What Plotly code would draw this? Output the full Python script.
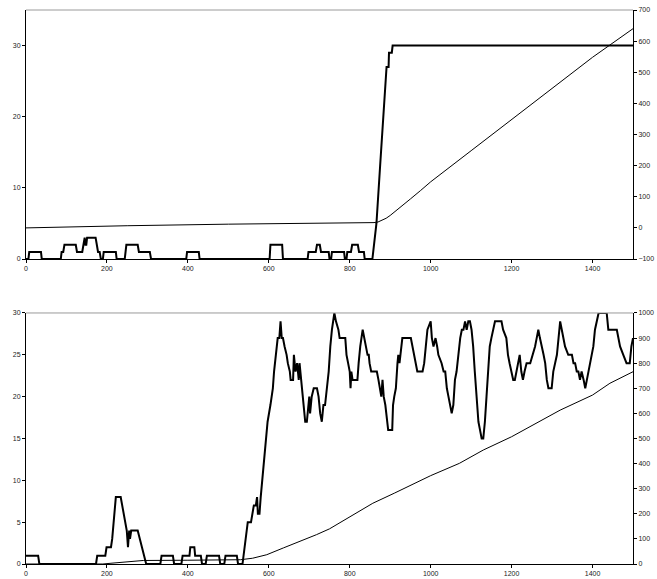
import plotly.graph_objects as go

# ---- upper panel: event count (left axis) and cumulative total (right axis)
top_count_x = [0, 6, 8, 37, 39, 86, 88, 92, 95, 123, 126, 139, 142, 145, 147, 149, 151, 172,
               175, 178, 182, 185, 190, 192, 222, 224, 244, 246, 248, 276, 279, 306, 309,
               396, 398, 427, 429, 602, 604, 633, 635, 696, 698, 716, 719, 726, 729, 748, 750,
               754, 756, 786, 788, 792, 794, 803, 806, 820, 823, 835, 837, 856, 860, 864, 866,
               875, 883, 889, 891, 896, 897, 904, 906, 910, 1500]
top_count_y = [0, 0, 1, 1, 0, 0, 1, 1, 2, 2, 1, 1, 2, 3, 2, 2, 3, 3,
               2, 1, 1, 0, 0, 1, 1, 0, 0, 1, 2, 2, 1, 1, 0,
               0, 1, 1, 0, 0, 2, 2, 0, 0, 1, 1, 2, 2, 1, 1, 0,
               0, 1, 1, 0, 0, 1, 1, 2, 2, 1, 1, 0, 0, 2, 4, 5,
               13, 20, 24, 27, 27, 29, 29, 30, 30, 30]

top_total_x = [0, 100, 250, 500, 750, 860, 870, 880, 890, 900, 915, 930, 950, 975, 1000,
               1100, 1200, 1300, 1400, 1500]
top_total_y = [0, 3, 7, 12, 15, 17, 19, 24, 31, 40, 55, 71, 93, 120, 148,
               248, 348, 448, 548, 640]

# ---- lower panel: event count (left axis) and cumulative total (right axis)
bot_count_x = [0, 30, 33, 173, 176, 196, 199, 210, 213, 216, 219, 222, 234, 238, 242, 246, 249,
               252, 255, 257, 260, 276, 281, 287, 291, 297, 332, 335, 363, 366, 384, 387, 404,
               406, 416, 418, 432, 435, 444, 447, 477, 480, 490, 493, 521, 524, 535, 540, 545,
               548, 556, 559, 563, 568, 571, 573, 577, 580, 584, 589, 592, 597, 604, 610, 613,
               618, 622, 626, 629, 632, 635, 639, 644, 647, 652, 654, 660, 662, 666, 670, 674,
               676, 680, 683, 686, 690, 694, 698, 700, 702, 706, 711, 719, 723, 727, 731, 735,
               739, 744, 748, 752, 756, 762, 766, 772, 775, 789, 792, 796, 800, 802, 804, 807,
               819, 822, 826, 832, 836, 840, 844, 847, 849, 853, 867, 871, 875, 878, 881, 884,
               888, 892, 895, 905, 907, 910, 914, 918, 920, 923, 930, 951, 955, 959, 963, 967,
               980, 984, 988, 992, 1000, 1003, 1007, 1012, 1016, 1019, 1027, 1032, 1036, 1040,
               1044, 1048, 1052, 1056, 1060, 1064, 1068, 1073, 1077, 1081, 1085, 1089, 1093,
               1097, 1101, 1105, 1109, 1113, 1118, 1122, 1126, 1130, 1134, 1138, 1142, 1146,
               1150, 1154, 1159, 1175, 1179, 1187, 1191, 1195, 1200, 1204, 1208, 1212, 1216,
               1220, 1224, 1228, 1232, 1237, 1246, 1258, 1262, 1266, 1270, 1275, 1279, 1283,
               1287, 1291, 1299, 1303, 1307, 1312, 1316, 1320, 1324, 1328, 1332, 1340, 1349,
               1353, 1357, 1361, 1365, 1369, 1373, 1378, 1382, 1386, 1390, 1394, 1398, 1402,
               1406, 1411, 1415, 1435, 1439, 1460, 1464, 1468, 1476, 1484, 1492, 1496, 1500]
bot_count_y = [1, 1, 0, 0, 1, 1, 2, 2, 3, 5, 7, 8, 8, 7, 6, 5, 4,
               2, 4, 3, 4, 4, 3, 2, 1, 0, 0, 1, 1, 0, 0, 1, 1,
               2, 2, 1, 1, 0, 0, 1, 1, 0, 0, 1, 1, 0, 0, 2, 4,
               5, 5, 6, 7, 7, 8, 6, 6, 8, 10, 13, 14, 17, 19, 21, 23,
               25, 27, 27, 29, 27, 27, 26, 25, 24, 23, 22, 22, 25, 23, 24, 22,
               24, 22, 20, 19, 17, 17, 19, 20, 18, 20, 21, 21, 20, 18, 17, 19,
               19, 21, 23, 26, 28, 30, 29, 28, 27, 27, 25, 24, 23, 21, 23, 22,
               22, 24, 26, 28, 27, 26, 25, 25, 24, 23, 23, 22, 21, 20, 22, 20,
               19, 17, 16, 16, 19, 20, 21, 24, 25, 24, 27, 27, 26, 25, 24, 23,
               23, 24, 26, 28, 29, 27, 26, 27, 26, 25, 24, 23, 23, 21,
               20, 19, 18, 19, 22, 23, 25, 27, 28, 28, 29, 28, 29,
               29, 28, 26, 23, 20, 17, 16, 15, 15, 17, 20, 23, 26,
               27, 28, 29, 29, 28, 27, 25, 24, 23, 22, 22, 23, 24,
               25, 23, 22, 23, 24, 24, 26, 27, 28, 27, 26, 25, 24,
               22, 21, 21, 23, 24, 25, 27, 29, 28, 27, 26, 25, 25,
               24, 24, 23, 23, 22, 23, 22, 21, 22, 23, 24, 25, 26,
               28, 29, 30, 30, 28, 28, 27, 26, 25, 24, 24, 26, 27]

bot_total_x = [0, 190, 210, 250, 290, 400, 530, 560, 595, 636, 677, 718, 750, 802, 857,
               910, 1000, 1071, 1130, 1200, 1278, 1320, 1400, 1443, 1500]
bot_total_y = [0, 0, 3, 10, 14, 15, 17, 23, 37, 64, 90, 117, 140, 189, 242,
               282, 352, 401, 454, 507, 574, 613, 673, 720, 766]

x_ticks = [0, 200, 400, 600, 800, 1000, 1200, 1400]

fig = go.Figure()
thick = dict(color="black", width=2)
thin = dict(color="black", width=1)

fig.add_trace(go.Scatter(x=top_count_x, y=top_count_y, mode="lines", line=thick,
                         xaxis="x", yaxis="y"))
fig.add_trace(go.Scatter(x=top_total_x, y=top_total_y, mode="lines", line=thin,
                         xaxis="x", yaxis="y2"))
fig.add_trace(go.Scatter(x=bot_count_x, y=bot_count_y, mode="lines", line=thick,
                         xaxis="x2", yaxis="y3"))
fig.add_trace(go.Scatter(x=bot_total_x, y=bot_total_y, mode="lines", line=thin,
                         xaxis="x2", yaxis="y4"))

tick_font = dict(family="Liberation Sans, Arial, sans-serif", size=7, color="#222")
axis_common = dict(showline=True, linecolor="black", linewidth=1, ticks="outside",
                   ticklen=3, tickcolor="black", tickwidth=1, showgrid=False,
                   zeroline=False, tickfont=tick_font, automargin=False, fixedrange=True)

top_dom = [0.5505, 1.0]
bot_dom = [0.0, 0.4531]

fig.update_layout(
    width=657, height=579,
    margin=dict(l=26, r=24, t=10, b=15),
    paper_bgcolor="white", plot_bgcolor="white",
    showlegend=False,
    xaxis=dict(domain=[0, 1], anchor="y", range=[0, 1500], tickvals=x_ticks, **axis_common),
    yaxis=dict(domain=top_dom, anchor="x", range=[0, 35], tickvals=[0, 10, 20, 30],
               **axis_common),
    yaxis2=dict(overlaying="y", side="right", anchor="x", range=[-100, 700],
                tickvals=list(range(-100, 701, 100)), **axis_common),
    xaxis2=dict(domain=[0, 1], anchor="y3", range=[0, 1500], tickvals=x_ticks, **axis_common),
    yaxis3=dict(domain=bot_dom, anchor="x2", range=[0, 30], tickvals=list(range(0, 31, 5)),
                **axis_common),
    yaxis4=dict(overlaying="y3", side="right", anchor="x2", range=[0, 1000],
                tickvals=list(range(0, 1001, 100)), **axis_common),
    shapes=[
        dict(type="line", xref="paper", yref="paper", x0=0, x1=1, y0=top_dom[1], y1=top_dom[1],
             line=dict(color="#9a9a9a", width=1)),
        dict(type="line", xref="paper", yref="paper", x0=0, x1=1, y0=bot_dom[1], y1=bot_dom[1],
             line=dict(color="#9a9a9a", width=1)),
    ],
)

fig.write_html("out.html", config={"displayModeBar": False})
